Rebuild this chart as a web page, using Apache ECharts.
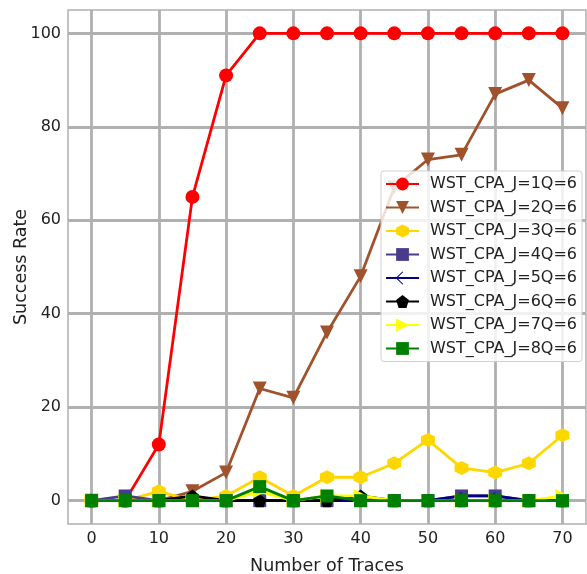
<!DOCTYPE html>
<html>
<head>
<meta charset="utf-8">
<script src="https://cdn.jsdelivr.net/npm/echarts@6/dist/echarts.min.js"></script>
<style>
html,body{margin:0;padding:0;background:#fff;}
#chart{width:587px;height:574px;}
</style>
</head>
<body>
<div id="chart"></div>
<script>
// Number of traces on the x axis
const traces = [0, 5, 10, 15, 20, 25, 30, 35, 40, 45, 50, 55, 60, 65, 70];
const xTicks = [0, 10, 20, 30, 40, 50, 60, 70];
const yTicks = [0, 20, 40, 60, 80, 100];

// Success rate (%) per attack configuration
const j1 = [0, 0, 12, 65, 91, 100, 100, 100, 100, 100, 100, 100, 100, 100, 100];
const j2 = [0, 0, 0, 2, 6, 24, 22, 36, 48, 67, 73, 74, 87, 90, 84];
const j3 = [0, 0, 2, 0, 1, 5, 1, 5, 5, 8, 13, 7, 6, 8, 14];
const j4 = [0, 1, 0, 0, 0, 0, 0, 0, 0, 0, 0, 1, 1, 0, 0];
const j5 = [0, 0, 0, 0, 0, 0, 0, 0, 0, 0, 0, 1, 1, 0, 0];
const j6 = [0, 0, 0, 1, 0, 0, 0, 0, 1, 0, 0, 0, 0, 0, 0];
const j7 = [0, 0, 0, 0, 0, 2, 0, 1, 1, 0, 0, 0, 0, 0, 1];
const j8 = [0, 0, 0, 0, 0, 3, 0, 1, 0, 0, 0, 0, 0, 0, 0];

const names = ['WST_CPA_J=1Q=6','WST_CPA_J=2Q=6','WST_CPA_J=3Q=6','WST_CPA_J=4Q=6',
               'WST_CPA_J=5Q=6','WST_CPA_J=6Q=6','WST_CPA_J=7Q=6','WST_CPA_J=8Q=6'];
const values = [j1, j2, j3, j4, j5, j6, j7, j8];
const colors = ['#ff0000', '#a0522d', '#ffd700', '#483d8b', '#000080', '#000000', '#ffff00', '#008000'];

const hexagon = 'path://M0,-1 L0.866,-0.5 L0.866,0.5 L0,1 L-0.866,0.5 L-0.866,-0.5 Z';
const pentagon = 'path://M0,-1 L0.951,-0.309 L0.588,0.809 L-0.588,0.809 L-0.951,-0.309 Z';
const tickLeft = 'path://M0,0 L1,0 L1,0.12 L0,0.12 Z M0,0 L0.5,-0.6 L0.56,-0.55 L0.08,0.06 Z M0,0.12 L0.5,0.72 L0.56,0.67 L0.08,0.06 Z';
const markers = [
  {symbol: 'circle', size: 14, rotate: 0},
  {symbol: 'triangle', size: 14, rotate: 180},
  {symbol: hexagon, size: 14, rotate: 0},
  {symbol: 'rect', size: 13, rotate: 0},
  {symbol: tickLeft, size: 8, rotate: 0},
  {symbol: pentagon, size: 13, rotate: 0},
  {symbol: 'triangle', size: 14, rotate: -90},
  {symbol: 'rect', size: 13, rotate: 0}
];

const series = names.map((n, i) => ({
  name: n,
  type: 'line',
  data: traces.map((t, k) => [t, values[i][k]]),
  symbol: markers[i].symbol,
  symbolSize: markers[i].size,
  symbolRotate: markers[i].rotate,
  showAllSymbol: true,
  color: colors[i],
  lineStyle: {width: 2.8, color: colors[i]},
  itemStyle: {color: colors[i]},
  z: 10 + i,
  animation: false
}));

const gridColor = '#b0b0b0';
const font = 'DejaVu Sans';

const chart = echarts.init(document.getElementById('chart'));
chart.setOption({
  animation: false,
  textStyle: {fontFamily: font},
  grid: {left: 68, top: 10, right: 1, bottom: 50, outerBoundsMode: 'none', containLabel: false,
         show: true, borderColor: gridColor, borderWidth: 1.5},
  xAxis: {
    type: 'value', min: -3.5, max: 73.5,
    name: 'Number of Traces', nameLocation: 'middle', nameGap: 33, nameMoveOverlap: false,
    nameTextStyle: {fontSize: 17.5, color: '#222', fontFamily: font},
    axisLine: {show: false},
    axisTick: {show: true, customValues: xTicks, length: 5, lineStyle: {color: gridColor, width: 1.5}},
    axisLabel: {customValues: xTicks, fontSize: 16, color: '#222', margin: 7, fontFamily: font},
    splitLine: {show: true, lineStyle: {color: gridColor, width: 2.8}}
  },
  yAxis: {
    type: 'value', min: -5, max: 105,
    name: 'Success Rate', nameLocation: 'middle', nameGap: 38, nameMoveOverlap: false,
    nameTextStyle: {fontSize: 17.5, color: '#222', fontFamily: font},
    axisLine: {show: false},
    axisTick: {show: true, customValues: yTicks, length: 5, lineStyle: {color: gridColor, width: 1.5}},
    axisLabel: {customValues: yTicks, fontSize: 16, color: '#222', margin: 7, fontFamily: font},
    splitLine: {show: true, lineStyle: {color: gridColor, width: 2.8}}
  },
  legend: {
    orient: 'vertical',
    right: 5, top: 171,
    zlevel: 1,
    backgroundColor: 'rgba(255,255,255,0.82)',
    borderColor: '#d0d0d0', borderWidth: 1, borderRadius: 3,
    padding: [5, 5, 5, 4],
    itemGap: 7.5,
    itemWidth: 33, itemHeight: 16,
    textStyle: {fontSize: 16, lineHeight: 16, color: '#222', fontFamily: font, padding: [0, 0, 0, 6]},
    data: names
  },
  series: series
});
</script>
</body>
</html>
